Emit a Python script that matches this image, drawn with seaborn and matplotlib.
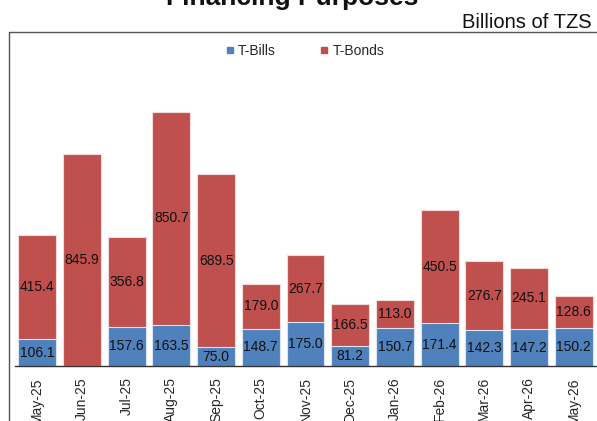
import matplotlib
matplotlib.use("Agg")
import matplotlib.pyplot as plt
from matplotlib.lines import Line2D
import seaborn as sns
import pandas as pd

months = ["May-25", "Jun-25", "Jul-25", "Aug-25", "Sep-25", "Oct-25", "Nov-25",
          "Dec-25", "Jan-26", "Feb-26", "Mar-26", "Apr-26", "May-26"]
t_bills = [106.1, 0.0, 157.6, 163.5, 75.0, 148.7, 175.0, 81.2, 150.7, 171.4, 142.3, 147.2, 150.2]
t_bonds = [415.4, 845.9, 356.8, 850.7, 689.5, 179.0, 267.7, 166.5, 113.0, 450.5, 276.7, 245.1, 128.6]

BLUE = "#4F81BD"
RED = "#C0504D"

sns.set_style("white")
plt.rcParams["font.family"] = ["Liberation Sans", "DejaVu Sans"]

df = pd.DataFrame({"month": months, "bills": t_bills, "bonds": t_bonds})
df["total"] = df["bills"] + df["bonds"]

W, H = 597, 421
fig = plt.figure(figsize=(W / 100, H / 100), dpi=100)
ax = fig.add_axes([15 / W, (H - 366) / H, (596 - 15) / W, (366 - 32) / H])

sns.barplot(data=df, x="month", y="total", color=RED, saturation=1, width=0.85,
            edgecolor="#f2dcdb", linewidth=0.8, ax=ax)
sns.barplot(data=df, x="month", y="bills", color=BLUE, saturation=1, width=0.85,
            edgecolor="#dce6f2", linewidth=0.8, ax=ax)

for i, (b, d) in enumerate(zip(t_bills, t_bonds)):
    if b > 0:
        ax.text(i, b / 2, f"{b:.1f}", ha="center", va="center", fontsize=10, color="#111111")
    if d > 0:
        ax.text(i, b + d / 2, f"{d:.1f}", ha="center", va="center", fontsize=10, color="#111111")

ax.set_xlim(-0.5, len(months) - 0.5)
ax.set_ylim(0, 1333)
ax.set_xlabel("")
ax.set_ylabel("")
ax.set_yticks([])
for s in ["left", "right", "top"]:
    ax.spines[s].set_visible(False)
ax.spines["bottom"].set_color("#333333")
ax.spines["bottom"].set_linewidth(1.0)
ax.set_xticks(range(len(months)))
ax.set_xticklabels(months, rotation=90, fontsize=10)
ax.tick_params(axis="x", which="major", length=0, pad=8)
ax.set_xticks([i - 0.5 for i in range(len(months) + 1)], minor=True)
ax.tick_params(axis="x", which="minor", length=4.5, width=1.0, color="#333333", direction="out")
ax.patch.set_alpha(0)

handles = [Line2D([], [], marker="s", linestyle="", color=BLUE, markersize=4.5),
           Line2D([], [], marker="s", linestyle="", color=RED, markersize=4.5)]
ax.legend(handles, ["T-Bills", "T-Bonds"], loc="center", bbox_to_anchor=((305 - 15) / (596 - 15), (366 - 51) / (366 - 32)),
          ncol=2, frameon=False, fontsize=10, handlelength=0.6, handletextpad=0.3, columnspacing=3.2)

# outer chart frame (top and left)
fig.add_artist(Line2D([9 / W, 1.0], [(H - 32) / H, (H - 32) / H], color="#555555", linewidth=1.0))
fig.add_artist(Line2D([9 / W, 9 / W], [0, (H - 32) / H], color="#555555", linewidth=1.0))

fig.text(292 / W, (H - 5) / H, "Financing Purposes", ha="center", va="baseline",
         fontsize=19, fontweight="bold", color="#111111")
fig.text(592 / W, (H - 28) / H, "Billions of TZS", ha="right", va="baseline",
         fontsize=14.5, color="#111111")

fig.savefig("out.png", dpi=100)
